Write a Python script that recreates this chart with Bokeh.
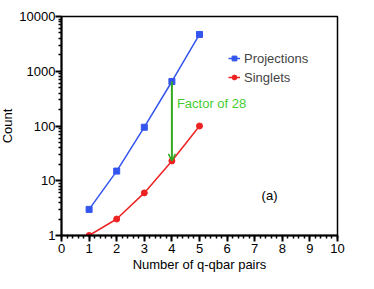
from bokeh.plotting import figure
from bokeh.embed import file_html
from bokeh.resources import INLINE
from bokeh.models import (FixedTicker, Label, Arrow, OpenHead, Legend, LegendItem)

# data
pairs = [1, 2, 3, 4, 5]
projections = [3, 15, 95, 650, 4700]
singlets = [1, 2, 6, 23, 100]
x_ticks = list(range(0, 11))
y_ticks = [1, 10, 100, 1000, 10000]
y_tick_labels = ["1", "10", "100", "1000", "10000"]
factor_text = "Factor of 28"
panel_text = "(a)"

FONT = "Liberation Sans"
BLUE = "#3355ee"
RED = "#ee2222"
GREEN = "#33aa22"
GREEN_TXT = "#44cc33"

p = figure(frame_width=276, frame_height=219, x_range=(0, 10), y_range=(1, 10000),
           y_axis_type="log", output_backend="svg", toolbar_location=None,
           min_border_left=50, min_border_top=16, min_border_right=29, min_border_bottom=10)
p.styles = {"margin-left": "-3px"}

p.xgrid.visible = False
p.ygrid.visible = False
p.outline_line_color = "black"
p.outline_line_width = 1.5
p.background_fill_color = "white"
p.border_fill_color = "white"

p.xaxis.ticker = FixedTicker(ticks=x_ticks,
                             minor_ticks=[i / 5 for i in range(0, 51)])
p.yaxis.ticker = FixedTicker(ticks=y_ticks,
                             minor_ticks=[m * 10 ** d for d in range(0, 4) for m in range(2, 10)])
p.yaxis.major_label_overrides = {t: l for t, l in zip(y_ticks, y_tick_labels)}

for ax in (p.xaxis, p.yaxis):
    ax.axis_line_width = 2
    ax.axis_line_color = "black"
    ax.major_tick_line_width = 2
    ax.major_tick_line_color = "black"
    ax.minor_tick_line_width = 1.5
    ax.minor_tick_line_color = "black"
    ax.major_tick_in = 0
    ax.major_tick_out = 6
    ax.minor_tick_in = 0
    ax.minor_tick_out = 3
    ax.major_label_text_font = FONT
    ax.major_label_text_font_size = "13px"
    ax.major_label_text_color = "black"
    ax.axis_label_text_font = FONT
    ax.axis_label_text_font_size = "13px"
    ax.axis_label_text_font_style = "normal"
    ax.axis_label_text_color = "black"

p.xaxis.major_label_standoff = 2
p.yaxis.major_label_standoff = 0
p.xaxis.axis_label = "Number of q-qbar pairs"
p.yaxis.axis_label = "Count"
p.xaxis.axis_label_standoff = 1
p.yaxis.axis_label_standoff = 1

lp = p.line(pairs, projections, line_color=BLUE, line_width=1.5)
sp = p.scatter(pairs, projections, marker="square", size=6, fill_color=BLUE, line_color=BLUE)
ls = p.line(pairs, singlets, line_color=RED, line_width=1.5)
ss = p.scatter(pairs, singlets, marker="circle", size=6, fill_color=RED, line_color=RED)

arrow = Arrow(x_start=pairs[3], y_start=projections[3], x_end=pairs[3], y_end=singlets[3],
              line_color=GREEN, line_width=2,
              end=OpenHead(size=7, line_color=GREEN, line_width=1.5))
p.add_layout(arrow)

p.add_layout(Label(x=pairs[3], y=258, x_offset=5, text=factor_text, text_font=FONT,
                   text_font_size="13px", text_color=GREEN_TXT, text_baseline="middle"))
p.add_layout(Label(x=7.25, y=5.4, text=panel_text, text_font=FONT,
                   text_font_size="13px", text_color="black", text_baseline="middle"))

legend = Legend(items=[LegendItem(label="Projections", renderers=[lp, sp]),
                       LegendItem(label="Singlets", renderers=[ls, ss])],
                location=(167, 149), padding=0, margin=0, spacing=1,
                glyph_width=12, glyph_height=18, label_standoff=4,
                label_text_font=FONT, label_text_font_size="13px",
                border_line_color=None, background_fill_alpha=0)
p.add_layout(legend)

open("out.html", "w").write(file_html(p, INLINE))
